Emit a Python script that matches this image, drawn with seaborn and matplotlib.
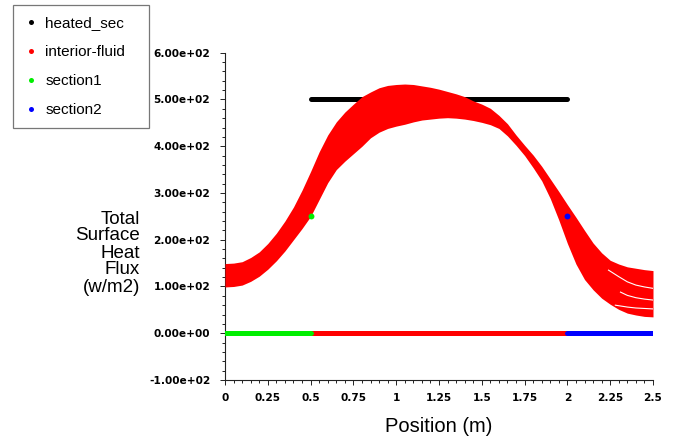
import matplotlib
matplotlib.use("Agg")
import matplotlib.pyplot as plt
from matplotlib.lines import Line2D
from matplotlib.ticker import MultipleLocator
import pandas as pd
import seaborn as sns

# ---------------- data ----------------
band_x = [0.00, 0.05, 0.10, 0.15, 0.20, 0.25, 0.30, 0.35, 0.40, 0.45,
          0.50, 0.55, 0.60, 0.65, 0.70, 0.75, 0.80, 0.85, 0.90, 0.95,
          1.00, 1.05, 1.10, 1.15, 1.20, 1.25, 1.30, 1.35, 1.40, 1.45,
          1.50, 1.55, 1.60, 1.65, 1.70, 1.75, 1.80, 1.85, 1.90, 1.95,
          2.00, 2.05, 2.10, 2.15, 2.20, 2.25, 2.30, 2.35, 2.40, 2.45, 2.50]
band_upper = [149, 150, 153, 162, 174, 192, 214, 240, 270, 306,
              346, 388, 424, 452, 473, 490, 506, 516, 525, 530,
              532, 533, 532, 529, 526, 522, 517, 512, 506, 497,
              490, 481, 466, 448, 424, 402, 381, 357, 330, 303,
              275, 248, 220, 193, 172, 156, 148, 142, 139, 136, 134]
band_lower = [99, 100, 103, 111, 122, 137, 155, 176, 200, 224,
              250, 286, 322, 350, 368, 384, 400, 418, 430, 438,
              443, 447, 452, 456, 458, 460, 461, 460, 458, 455,
              451, 446, 438, 422, 402, 380, 354, 326, 288, 242,
              192, 148, 115, 93, 75, 62, 51, 43, 39, 36, 35]

# thin gaps between the fanned-out curves at the outlet end
gap1_x = [2.24, 2.30, 2.35, 2.40, 2.45, 2.50]
gap1_y = [135, 121, 110, 103, 99, 96]
gap2_x = [2.31, 2.35, 2.40, 2.45, 2.50]
gap2_y = [88, 81, 76, 73, 71]
gap3_x = [2.28, 2.35, 2.40, 2.45, 2.50]
gap3_y = [60, 56, 54, 53, 52]

heated_x = [0.5, 2.0]
heated_y = [500, 500]
interior_zero_x = [0.5, 2.0]
interior_zero_y = [0, 0]
section1_x = [0.0, 0.5]
section1_y = [0, 0]
section2_x = [2.0, 2.5]
section2_y = [0, 0]
section1_pt_x = [0.5]
section1_pt_y = [250]
section2_pt_x = [2.0]
section2_pt_y = [250]

series_names = ["heated_sec", "interior-fluid", "section1", "section2"]
series_colors = ["#000000", "#ff0000", "#00ee00", "#0000ff"]

x_ticks = [0, 0.25, 0.5, 0.75, 1.0, 1.25, 1.5, 1.75, 2.0, 2.25, 2.5]
x_tick_labels = ["0", "0.25", "0.5", "0.75", "1", "1.25", "1.5", "1.75", "2", "2.25", "2.5"]
y_ticks = [-100, 0, 100, 200, 300, 400, 500, 600]
y_tick_labels = ["-1.00e+02", "0.00e+00", "1.00e+02", "2.00e+02",
                 "3.00e+02", "4.00e+02", "5.00e+02", "6.00e+02"]

# ---------------- figure ----------------
W, H = 673, 438
fig = plt.figure(figsize=(W / 100, H / 100), dpi=100)
fig.patch.set_facecolor("white")
ax = fig.add_axes([225 / W, 58 / H, 428 / W, 327.3 / H])
ax.set_facecolor("white")

line_w = 3.6
black, red, green, blue = series_colors

sns.lineplot(x=heated_x, y=heated_y, color=black, lw=line_w, ax=ax,
             solid_capstyle="round", zorder=2)
ax.fill_between(band_x, band_lower, band_upper, color=red, lw=0, zorder=3)
for gx, gy in [(gap1_x, gap1_y), (gap2_x, gap2_y), (gap3_x, gap3_y)]:
    sns.lineplot(x=gx, y=gy, color="white", lw=0.8, ax=ax, zorder=4)
sns.lineplot(x=interior_zero_x, y=interior_zero_y, color=red, lw=line_w, ax=ax,
             solid_capstyle="round", zorder=5)
sns.lineplot(x=section1_x, y=section1_y, color=green, lw=line_w, ax=ax,
             solid_capstyle="round", zorder=6)
sns.lineplot(x=section2_x, y=section2_y, color=blue, lw=line_w, ax=ax,
             solid_capstyle="round", zorder=6)
sns.scatterplot(x=section1_pt_x, y=section1_pt_y, color=green, s=18, linewidth=0,
                ax=ax, zorder=7)
sns.scatterplot(x=section2_pt_x, y=section2_pt_y, color=blue, s=18, linewidth=0,
                ax=ax, zorder=7)

ax.set_xlim(0, 2.5)
ax.set_ylim(-100, 600)
for s in ["top", "right"]:
    ax.spines[s].set_visible(False)
for s in ["left", "bottom"]:
    ax.spines[s].set_color("#222222")
    ax.spines[s].set_linewidth(0.8)

tick_font = dict(family="DejaVu Sans", weight="bold", size=7.6)
ax.set_xticks(x_ticks)
ax.set_xticklabels(x_tick_labels, fontdict=tick_font)
ax.set_yticks(y_ticks)
ax.set_yticklabels(y_tick_labels, fontdict=tick_font)
ax.xaxis.set_minor_locator(MultipleLocator(0.05))
ax.yaxis.set_minor_locator(MultipleLocator(20))
ax.tick_params(axis="both", which="major", direction="out", length=3.6,
               width=0.7, color="#222222")
ax.tick_params(axis="both", which="minor", direction="out", length=2.2,
               width=0.7, color="#222222")
ax.tick_params(axis="x", which="major", pad=6)
ax.tick_params(axis="y", which="major", pad=7)

ax.set_xlabel("Position (m)", fontsize=14.5, family="Liberation Sans", va="center")
ax.xaxis.set_label_coords(0.5, (380 - 426) / 327.3)
ax.set_ylabel("Total\nSurface\nHeat\nFlux\n(w/m2)", fontsize=13.5,
              family="Liberation Sans", rotation=0, ha="right", va="center",
              multialignment="right", linespacing=1.0)
ax.yaxis.set_label_coords((140 - 225) / 428, (380 - 253) / 327.3)

handles = [Line2D([], [], ls="", marker="o", markersize=3.6, color=c,
                  markeredgewidth=0) for c in series_colors]
leg = fig.legend(handles, series_names, loc="upper left",
                 bbox_to_anchor=(12.7 / W, (H - 127) / H, (149 - 12.7) / W, 122 / H),
                 mode="expand", borderaxespad=0, fancybox=False, frameon=True,
                 prop=dict(family="Liberation Sans", size=11),
                 handlelength=1.0, handletextpad=0.4, borderpad=0.72,
                 labelspacing=0.98)
leg.get_frame().set_edgecolor("#555555")
leg.get_frame().set_linewidth(0.9)

fig.savefig("out.png", dpi=100, facecolor="white")
